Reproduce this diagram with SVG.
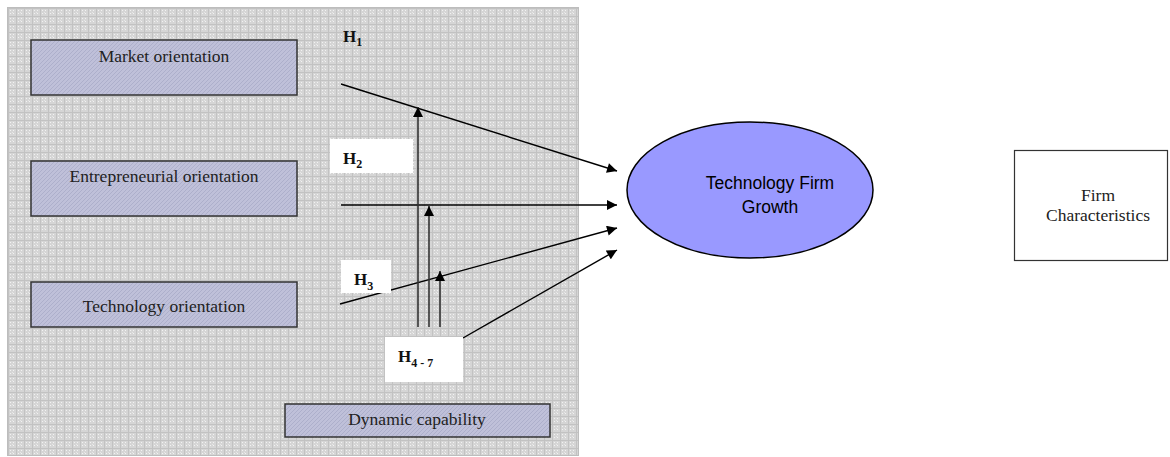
<svg xmlns="http://www.w3.org/2000/svg" width="1170" height="457" viewBox="0 0 1170 457">
  <style>
    .box { fill: url(#boxFill); stroke: #333; stroke-width: 1.5; }
    .lbl { font-family: "Liberation Serif", "Times New Roman", serif; font-size: 17.5px; fill: #222; text-anchor: middle; }
    .hyp { font-family: "Liberation Serif", "Times New Roman", serif; font-weight: bold; font-size: 17px; fill: #111; }
    .hyp tspan.sub { font-size: 12px; }
    .edge { stroke: #000; stroke-width: 1.4; fill: none; marker-end: url(#arrow); }
    .vert { stroke: #333; stroke-width: 1.6; fill: none; marker-end: url(#arrow); }
    .tag { fill: #fff; }
    .sans { font-family: "Liberation Sans", Arial, sans-serif; font-size: 17.5px; fill: #000; text-anchor: middle; }
  </style>
  <defs>
    <!-- dotted grey grid texture of the model panel -->
    <pattern id="panelFill" width="8" height="8" patternUnits="userSpaceOnUse">
      <rect width="8" height="8" fill="#d5d5d5"/>
      <rect x="0" y="0" width="8" height="1" fill="#c2c2c2"/>
      <rect x="0" y="0" width="1" height="8" fill="#c2c2c2"/>
      <rect x="2" y="2" width="1" height="1" fill="#f2f2f2"/>
      <rect x="5" y="2" width="1" height="1" fill="#f2f2f2"/>
      <rect x="2" y="5" width="1" height="1" fill="#f2f2f2"/>
      <rect x="5" y="5" width="1" height="1" fill="#f2f2f2"/>
      <rect x="4" y="4" width="1" height="1" fill="#e6e6e6"/>
    </pattern>
    <!-- hatched lavender fill of the construct boxes -->
    <pattern id="boxFill" width="4" height="4" patternUnits="userSpaceOnUse">
      <rect width="4" height="4" fill="#bfc0d9"/>
      <path d="M0,4 L4,0" stroke="#adafcb" stroke-width="1"/>
    </pattern>
    <marker id="arrow" viewBox="0 0 10 10" refX="10" refY="5" markerWidth="11" markerHeight="10" markerUnits="userSpaceOnUse" orient="auto">
      <path d="M0,0 L10,5 L0,10 Z" fill="#000"/>
    </marker>
  </defs>

  <!-- model panel -->
  <rect x="7.5" y="7.5" width="571" height="448" fill="url(#panelFill)" stroke="#bdbdbd" stroke-width="1"/>

  <g id="market-orientation">
    <rect class="box" x="31" y="40" width="266" height="55"/>
    <text class="lbl" x="164" y="62">Market orientation</text>
  </g>
  <g id="entrepreneurial-orientation">
    <rect class="box" x="31" y="161" width="266" height="55"/>
    <text class="lbl" x="164" y="182">Entrepreneurial orientation</text>
  </g>
  <g id="technology-orientation">
    <rect class="box" x="31" y="282" width="266" height="45"/>
    <text class="lbl" x="164" y="312">Technology orientation</text>
  </g>
  <g id="dynamic-capability">
    <rect class="box" x="285" y="404" width="265" height="33"/>
    <text class="lbl" x="417" y="425">Dynamic capability</text>
  </g>

  <g id="technology-firm-growth">
    <ellipse cx="750" cy="190" rx="123" ry="68" fill="#9999ff" stroke="#000" stroke-width="1.5"/>
    <text class="sans" x="770" y="189">Technology Firm</text>
    <text class="sans" x="770" y="213">Growth</text>
  </g>

  <g id="firm-characteristics">
    <rect x="1014.5" y="150.5" width="153" height="110" fill="#fff" stroke="#333" stroke-width="1.2"/>
    <text class="lbl" x="1098" y="201" font-size="16">Firm</text>
    <text class="lbl" x="1098" y="221" font-size="16">Characteristics</text>
  </g>

  <g id="connectors">
    <line class="edge" x1="341" y1="84" x2="617" y2="171"/>
    <line class="edge" x1="341" y1="205" x2="617" y2="205"/>
    <line class="edge" x1="340" y1="304" x2="617" y2="228"/>
    <line class="edge" x1="463" y1="338" x2="617" y2="250"/>
    <line class="vert" x1="418" y1="327" x2="418" y2="107"/>
    <line class="vert" x1="429" y1="327" x2="429" y2="206"/>
    <line class="vert" x1="440" y1="327" x2="440" y2="271"/>
  </g>

  <g id="hypothesis-labels">
    <text class="hyp" x="343" y="42">H<tspan class="sub" dy="4">1</tspan></text>
    <rect class="tag" x="330" y="139" width="83" height="34"/>
    <text class="hyp" x="343" y="164">H<tspan class="sub" dy="4">2</tspan></text>
    <rect class="tag" x="341" y="260" width="50" height="33"/>
    <text class="hyp" x="354" y="285">H<tspan class="sub" dy="5">3</tspan></text>
    <rect class="tag" x="385" y="337" width="78" height="45"/>
    <text class="hyp" x="398" y="362">H<tspan class="sub" dy="5">4 - 7</tspan></text>
  </g>
</svg>
